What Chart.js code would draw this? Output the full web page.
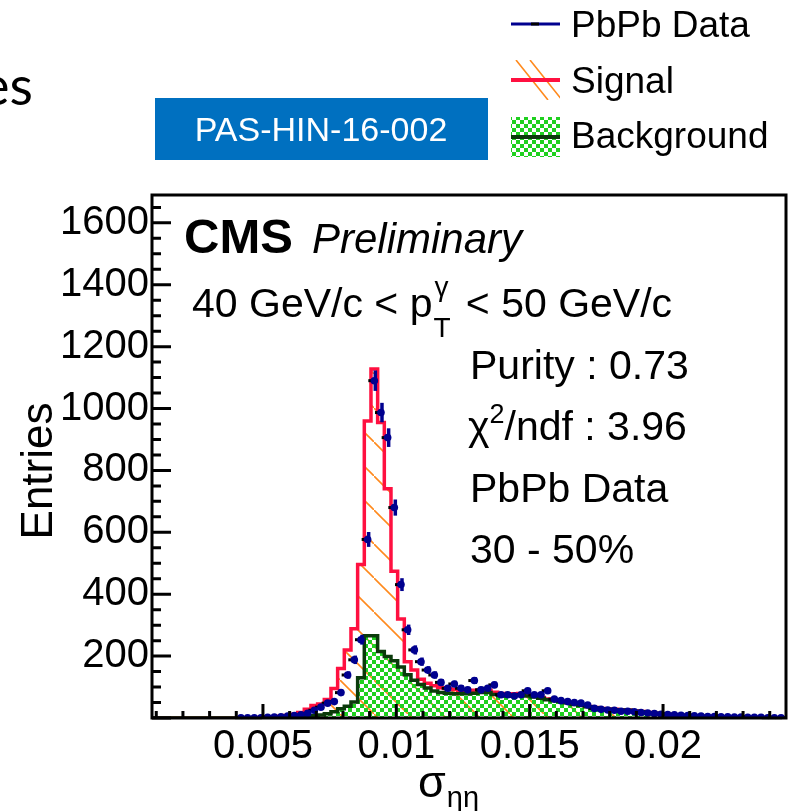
<!DOCTYPE html>
<html>
<head>
<meta charset="utf-8">
<script src="https://cdn.jsdelivr.net/npm/chart.js@4.4.0/dist/chart.umd.min.js"></script>
<style>
  html, body { margin: 0; padding: 0; background: #fff; }
  #wrap { width: 794px; height: 811px; }
</style>
</head>
<body>
<div id="wrap"><canvas id="sieie-chart" width="794" height="811"></canvas></div>
<script>
// binning of the sigma_ieta_ieta histogram
const binLow = 0.0008;
const binWidth = 0.00025;

// signal + background fit (red outline), one value per bin
const totalFit = [
  0, 0, 0, 0, 0, 0, 0, 0, 0, 0,
  0, 0, 0, 0, 0, 1, 1, 2, 3, 4,
  6, 8, 12, 18, 28, 40, 45, 60, 95, 160,
  220, 288, 496, 960, 1128, 955, 741, 474, 320, 182,
  155, 125, 112, 104, 98, 95, 92, 90, 89, 90,
  91, 90, 83, 79, 76, 78, 79, 74, 71, 66,
  61, 58, 54, 50, 45, 41, 37, 34, 31, 29,
  28, 27, 26, 23, 21, 18, 15, 13, 12, 10,
  9, 8, 7, 6, 5, 4, 4, 3, 3, 3,
  2, 2, 2, 2, 1, 1
];

// background template (green)
const background = [
  0, 0, 0, 0, 0, 0, 0, 0, 0, 0,
  0, 0, 0, 0, 0, 0, 1, 1, 2, 2,
  3, 4, 5, 6, 7, 8, 10, 14, 20, 30,
  38, 52, 130, 266, 266, 215, 199, 185, 165, 140,
  122, 108, 97, 87, 82, 80, 78, 78, 78, 80,
  82, 82, 76, 73, 71, 74, 75, 71, 68, 64,
  59, 56, 53, 49, 44, 40, 36, 33, 30, 28,
  27, 26, 25, 22, 20, 17, 15, 13, 11, 10,
  9, 8, 7, 6, 5, 4, 4, 3, 3, 3,
  2, 2, 2, 2, 1, 1
];

// PbPb data points
const pbpbData = [
  0, 0, 0, 0, 0, 0, 0, 0, 0, 0,
  0, 0, 0, 1, 1, 1, 1, 2, 3, 4,
  6, 8, 10, 15, 25, 35, 48, 53, 82, 139,
  188, 253, 577, 1090, 987, 906, 680, 431, 285, 220,
  182, 155, 139, 115, 96, 110, 96, 91, 121, 91,
  96, 107, 75, 75, 71, 75, 88, 75, 75, 88,
  61, 56, 53, 50, 48, 42, 31, 28, 26, 25,
  22, 22, 20, 18, 16, 14, 12, 11, 10, 9,
  8, 7, 6, 5, 5, 4, 4, 3, 3, 2,
  2, 2, 1, 1, 1, 0
];

const xTicks = [0.005, 0.01, 0.015, 0.02];
const yTicks = [0, 200, 400, 600, 800, 1000, 1200, 1400, 1600];
const xRange = [0.00084, 0.02461];
const yRange = [0, 1690];

const FONT = "'Liberation Sans', Arial, sans-serif";

function stepPoints(values) {
  const pts = [{ x: binLow, y: 0 }];
  values.forEach((v, i) => pts.push({ x: binLow + i * binWidth, y: v }));
  pts.push({ x: binLow + values.length * binWidth, y: values[values.length - 1] });
  return pts;
}

function hatchPattern() {
  const s = 34;
  const c = document.createElement("canvas");
  c.width = s; c.height = s;
  const g = c.getContext("2d");
  g.strokeStyle = "#ff8a1e";
  g.lineWidth = 1.6;
  g.beginPath();
  g.moveTo(-2, -2); g.lineTo(s + 2, s + 2);
  g.stroke();
  return g.createPattern(c, "repeat");
}

function checkerPattern() {
  const c = document.createElement("canvas");
  c.width = 8; c.height = 8;
  const g = c.getContext("2d");
  g.fillStyle = "#1fd01f";
  g.fillRect(0, 0, 4, 4);
  g.fillRect(4, 4, 4, 4);
  return g.createPattern(c, "repeat");
}

const hatch = hatchPattern();
const checker = checkerPattern();

const errorBars = {
  id: "errorBars",
  beforeDatasetDraw(chart, args) {
    if (args.index !== 2) return;
    const { ctx, scales: { x, y } } = chart;
    ctx.save();
    pbpbData.forEach((v, i) => {
      if (!v) return;
      const cx = x.getPixelForValue(binLow + (i + 0.5) * binWidth);
      const cy = y.getPixelForValue(v);
      const err = Math.sqrt(v);
      ctx.strokeStyle = "#000";
      ctx.lineWidth = 3;
      ctx.beginPath();
      ctx.moveTo(cx - 6, cy); ctx.lineTo(cx + 1, cy);
      ctx.stroke();
      ctx.strokeStyle = "#00008f";
      ctx.lineWidth = 3.5;
      ctx.beginPath();
      ctx.moveTo(cx + 1, y.getPixelForValue(v + err));
      ctx.lineTo(cx + 1, y.getPixelForValue(Math.max(v - err, 0)));
      ctx.stroke();
    });
    ctx.restore();
  }
};

const frameAndTicks = {
  id: "frameAndTicks",
  afterDatasetsDraw(chart) {
    const { ctx, chartArea: a, scales: { x, y } } = chart;
    ctx.save();
    ctx.strokeStyle = "#000";
    ctx.lineWidth = 3;
    ctx.beginPath();
    // y axis ticks (inside)
    for (let v = 0; v <= yRange[1]; v += 50) {
      const py = y.getPixelForValue(v);
      const len = v % 200 === 0 ? 19 : 9;
      ctx.moveTo(a.left, py); ctx.lineTo(a.left + len, py);
    }
    // x axis ticks (inside)
    for (let k = 1; k <= 24; k++) {
      const px = x.getPixelForValue(k * 0.001);
      const len = k % 5 === 0 ? 14 : 7;
      ctx.moveTo(px, a.bottom); ctx.lineTo(px, a.bottom - len);
    }
    ctx.stroke();
    ctx.strokeRect(a.left, a.top, a.right - a.left, a.bottom - a.top);
    ctx.restore();
  }
};

function txt(ctx, s, x, y, font, color, align) {
  ctx.font = font;
  ctx.fillStyle = color || "#000";
  ctx.textAlign = align || "left";
  ctx.fillText(s, x, y);
  return ctx.measureText(s).width;
}

const annotations = {
  id: "annotations",
  afterDraw(chart) {
    const ctx = chart.ctx;
    ctx.save();
    ctx.textBaseline = "alphabetic";

    // slide remnants
    txt(ctx, "es", 33, 105, "54px Lato, 'Open Sans', sans-serif", "#000", "right");
    ctx.fillStyle = "#0070c0";
    ctx.fillRect(155, 98, 333, 62);
    txt(ctx, "PAS-HIN-16-002", 321, 141, "34px " + FONT, "#fff", "center");

    // legend
    ctx.lineWidth = 3;
    ctx.strokeStyle = "#00008f";
    ctx.beginPath(); ctx.moveTo(511, 24); ctx.lineTo(560, 24); ctx.stroke();
    ctx.strokeStyle = "#000";
    ctx.beginPath(); ctx.moveTo(531, 24); ctx.lineTo(539, 24); ctx.stroke();
    txt(ctx, "PbPb Data", 571, 37, "37px " + FONT);

    ctx.save();
    ctx.beginPath(); ctx.rect(511, 60, 49, 40); ctx.clip();
    ctx.strokeStyle = "#ff8a1e"; ctx.lineWidth = 1.6;
    ctx.beginPath();
    ctx.moveTo(516, 60); ctx.lineTo(548, 100);
    ctx.moveTo(530, 60); ctx.lineTo(562, 100);
    ctx.stroke();
    ctx.restore();
    ctx.strokeStyle = "#ff1040"; ctx.lineWidth = 4;
    ctx.beginPath(); ctx.moveTo(511, 80); ctx.lineTo(560, 80); ctx.stroke();
    txt(ctx, "Signal", 571, 93, "37px " + FONT);

    ctx.fillStyle = checker;
    ctx.fillRect(511, 117, 49, 40);
    ctx.strokeStyle = "#0b3a0b"; ctx.lineWidth = 4;
    ctx.beginPath(); ctx.moveTo(511, 137); ctx.lineTo(560, 137); ctx.stroke();
    txt(ctx, "Background", 571, 148, "37px " + FONT);

    // CMS label
    txt(ctx, "CMS", 184, 253, "bold 49px " + FONT);
    txt(ctx, "Preliminary", 312, 253, "italic 42px " + FONT);

    // pT range
    let px = 192;
    px += txt(ctx, "40 GeV/c < p", px, 317, "41px " + FONT);
    txt(ctx, "T", px + 1, 337, "28px " + FONT);
    txt(ctx, "\u03b3", px + 2, 296, "28px " + FONT);
    px += 22;
    txt(ctx, " < 50 GeV/c", px, 317, "41px " + FONT);

    // fit info
    txt(ctx, "Purity : 0.73", 470, 379, "41px " + FONT);
    px = 468;
    px += txt(ctx, "\u03c7", px, 440, "41px " + FONT);
    px += txt(ctx, "2", px, 423, "27px " + FONT);
    txt(ctx, "/ndf : 3.96", px, 440, "41px " + FONT);
    txt(ctx, "PbPb Data", 470, 502, "41px " + FONT);
    txt(ctx, "30 - 50%", 470, 563, "41px " + FONT);

    // axis titles
    ctx.save();
    ctx.translate(40, 471);
    ctx.rotate(-Math.PI / 2);
    ctx.textBaseline = "middle";
    txt(ctx, "Entries", 0, 0, "44px " + FONT, "#000", "center");
    ctx.restore();

    px = 418;
    px += txt(ctx, "\u03c3", px, 797, "45px " + FONT);
    txt(ctx, "\u03b7\u03b7", px + 1, 807, "29px " + FONT);

    ctx.restore();
  }
};

const ctx = document.getElementById("sieie-chart").getContext("2d");

new Chart(ctx, {
  type: "line",
  data: {
    datasets: [
      {
        label: "Signal",
        data: stepPoints(totalFit),
        stepped: "after",
        borderColor: "#ff1040",
        borderWidth: 3.5,
        backgroundColor: hatch,
        fill: "origin",
        pointRadius: 0,
        order: 3
      },
      {
        label: "Background",
        data: stepPoints(background),
        stepped: "after",
        borderColor: "#0b3a0b",
        borderWidth: 3.5,
        backgroundColor: checker,
        fill: "origin",
        pointRadius: 0,
        order: 2
      },
      {
        type: "scatter",
        label: "PbPb Data",
        data: pbpbData.map((v, i) => ({ x: binLow + (i + 0.5) * binWidth, y: v })).filter(p => p.y > 0),
        pointRadius: 3.8,
        pointBackgroundColor: "#00008f",
        pointBorderWidth: 0,
        showLine: false,
        order: 1
      }
    ]
  },
  options: {
    responsive: false,
    animation: false,
    layout: { padding: { top: 195, right: 8, bottom: 0, left: 0 } },
    plugins: {
      legend: { display: false },
      tooltip: { enabled: false }
    },
    scales: {
      x: {
        type: "linear",
        min: xRange[0],
        max: xRange[1],
        grid: { display: false, drawTicks: false },
        border: { display: false },
        afterBuildTicks: axis => { axis.ticks = xTicks.map(v => ({ value: v })); },
        afterFit: scale => { scale.height = 93; },
        ticks: {
          autoSkip: false,
          maxRotation: 0,
          padding: 5,
          color: "#000",
          font: { family: FONT, size: 40 },
          callback: v => String(+v.toFixed(3))
        }
      },
      y: {
        type: "linear",
        min: yRange[0],
        max: yRange[1],
        grid: { display: false, drawTicks: false },
        border: { display: false },
        afterBuildTicks: axis => { axis.ticks = yTicks.map(v => ({ value: v })); },
        afterFit: scale => { scale.width = 152; },
        ticks: {
          padding: 3,
          color: "#000",
          font: { family: FONT, size: 40 },
          callback: v => (v === 0 ? "" : v)
        }
      }
    }
  },
  plugins: [errorBars, frameAndTicks, annotations]
});
</script>
</body>
</html>
